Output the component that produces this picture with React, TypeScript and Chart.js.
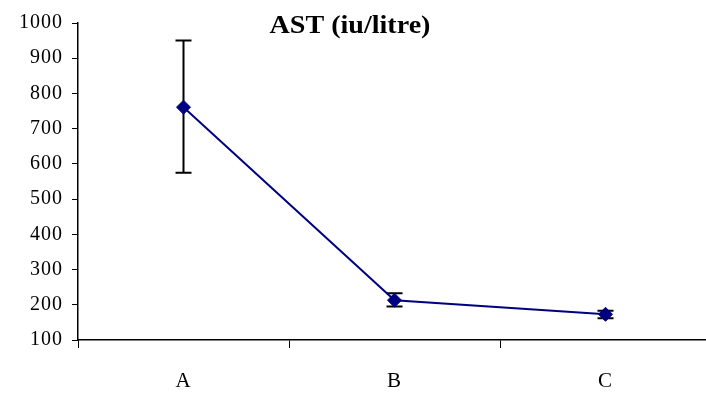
import React, { useEffect, useRef } from "react";
import { Chart, registerables } from "chart.js";

Chart.register(...registerables);

const categories = ["A", "B", "C"];
const meanValues = [761, 213, 173];
const errorLow = [575, 195, 162];
const errorHigh = [950, 233, 183];
const yMin = 100;
const yMax = 1000;
const yStep = 100;
const titleText = "AST (iu/litre)";

const FONT = "'Liberation Serif', 'Times New Roman', serif";

const spacingPlugin = {
  id: "spacing",
  beforeDraw(chart: any) {
    (chart.ctx as any).letterSpacing = "1px";
  },
  afterDraw(chart: any) {
    (chart.ctx as any).letterSpacing = "0px";
  },
};

const errorBarPlugin = {
  id: "errorBars",
  beforeDatasetsDraw(chart: any) {
    const ctx = chart.ctx;
    const meta = chart.getDatasetMeta(0);
    const y = chart.scales.y;
    ctx.save();
    ctx.strokeStyle = "#000";
    ctx.lineWidth = 2;
    meta.data.forEach((pt: any, i: number) => {
      const x = pt.x;
      const yt = y.getPixelForValue(errorHigh[i]);
      const yb = y.getPixelForValue(errorLow[i]);
      ctx.beginPath();
      ctx.moveTo(x, yt);
      ctx.lineTo(x, yb);
      ctx.moveTo(x - 8, yt);
      ctx.lineTo(x + 8, yt);
      ctx.moveTo(x - 8, yb);
      ctx.lineTo(x + 8, yb);
      ctx.stroke();
    });
    ctx.restore();
  },
};

const titlePlugin = {
  id: "overlayTitle",
  afterDraw(chart: any) {
    const ctx = chart.ctx;
    ctx.save();
    (ctx as any).letterSpacing = "0px";
    ctx.font = `bold 26px ${FONT}`;
    ctx.fillStyle = "#000";
    ctx.textAlign = "center";
    ctx.textBaseline = "alphabetic";
    ctx.translate(350, 33);
    ctx.scale(1.08, 1);
    ctx.fillText(titleText, 0, 0);
    ctx.restore();
  },
};

export default function App() {
  const ref = useRef<HTMLCanvasElement | null>(null);

  useEffect(() => {
    document.body.style.margin = "0";
    document.body.style.overflow = "hidden";
    document.documentElement.style.overflow = "hidden";
    const canvas = ref.current;
    if (!canvas) return;
    const chart = new Chart(canvas, {
      type: "line",
      data: {
        labels: categories,
        datasets: [
          {
            data: meanValues,
            borderColor: "#000080",
            backgroundColor: "#000080",
            borderWidth: 2,
            pointStyle: "rectRot",
            pointRadius: 7,
            pointBorderWidth: 1,
            tension: 0,
          },
        ],
      },
      options: {
        animation: false,
        responsive: false,
        devicePixelRatio: 1,
        layout: { padding: { top: 23, right: 13, left: 0, bottom: 0 } },
        plugins: {
          legend: { display: false },
          tooltip: { enabled: false },
          title: { display: false },
        },
        scales: {
          x: {
            type: "category",
            offset: true,
            grid: {
              offset: true,
              drawOnChartArea: false,
              tickLength: 8,
              color: "#000",
              lineWidth: 1,
            },
            border: { color: "#000", width: 1.5 },
            ticks: {
              color: "#000",
              font: { family: FONT, size: 21 },
              padding: 21,
            },
            afterFit: (s: any) => {
              s.height = 55;
            },
          },
          y: {
            min: yMin,
            max: yMax,
            grid: {
              drawOnChartArea: false,
              tickLength: 6,
              color: "#000",
              lineWidth: 1,
            },
            border: { color: "#000", width: 1.5 },
            ticks: {
              stepSize: yStep,
              color: "#000",
              font: { family: FONT, size: 20 },
              padding: 9,
              callback: (v: any) => String(v),
            },
            afterFit: (s: any) => {
              s.width = 78;
            },
          },
        },
      },
      plugins: [spacingPlugin, errorBarPlugin, titlePlugin],
    });
    return () => chart.destroy();
  }, []);

  return (
    <div style={{ width: 724, height: 395, overflow: "hidden" }}>
      <canvas ref={ref} width={724} height={395} style={{ display: "block" }} />
    </div>
  );
}
